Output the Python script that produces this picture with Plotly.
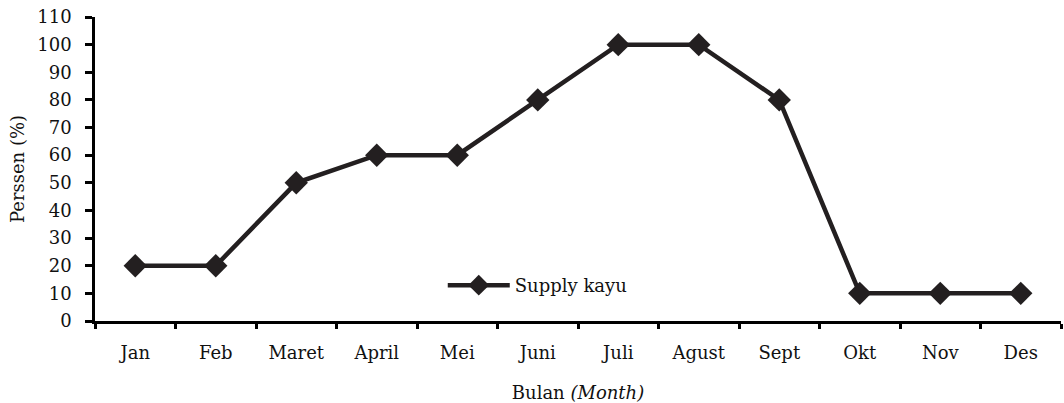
import plotly.graph_objects as go

months = ["Jan", "Feb", "Maret", "April", "Mei", "Juni", "Juli", "Agust", "Sept", "Okt", "Nov", "Des"]
supply = [20, 20, 50, 60, 60, 80, 100, 100, 80, 10, 10, 10]
y_ticks = list(range(0, 111, 10))

FONT = "DejaVu Serif"
INK = "#231f20"
FS = 18

fig = go.Figure()
fig.add_trace(go.Scatter(
    x=months, y=supply, mode="lines+markers", name="Supply kayu",
    line=dict(color=INK, width=4.5),
    marker=dict(symbol="diamond", size=18, color=INK),
))

fig.update_layout(
    width=1064, height=403,
    margin=dict(l=95, r=3, t=17, b=82),
    plot_bgcolor="white", paper_bgcolor="white",
    font=dict(family=FONT, size=FS, color="#111"),
    showlegend=True,
    legend=dict(x=0.36, y=0.117, xanchor="left", yanchor="middle",
                bgcolor="rgba(0,0,0,0)", font=dict(family=FONT, size=FS),
                itemwidth=62),
    xaxis=dict(
        type="category", categoryorder="array", categoryarray=months,
        range=[-0.5, 11.5], tickson="boundaries", automargin=False,
        showline=True, linecolor="black", linewidth=2.5,
        ticks="outside", ticklen=5, tickwidth=3, tickcolor="black",
        showgrid=False, zeroline=False, ticklabelstandoff=14,
        tickfont=dict(family=FONT, size=FS),
        title=dict(text="Bulan <i>(Month)</i>", font=dict(family=FONT, size=FS), standoff=26),
    ),
    yaxis=dict(
        range=[0, 110], tickvals=y_ticks, automargin=False,
        showline=True, linecolor="black", linewidth=2.5,
        ticks="outside", ticklen=7, tickwidth=3, tickcolor="black",
        showgrid=False, zeroline=False, ticklabelstandoff=10,
        tickfont=dict(family=FONT, size=FS),
        title=dict(text="Perssen (%)", font=dict(family=FONT, size=FS), standoff=8),
    ),
)

fig.write_html("out.html", config={"displayModeBar": False},
               post_script="document.body.style.margin='0';")
